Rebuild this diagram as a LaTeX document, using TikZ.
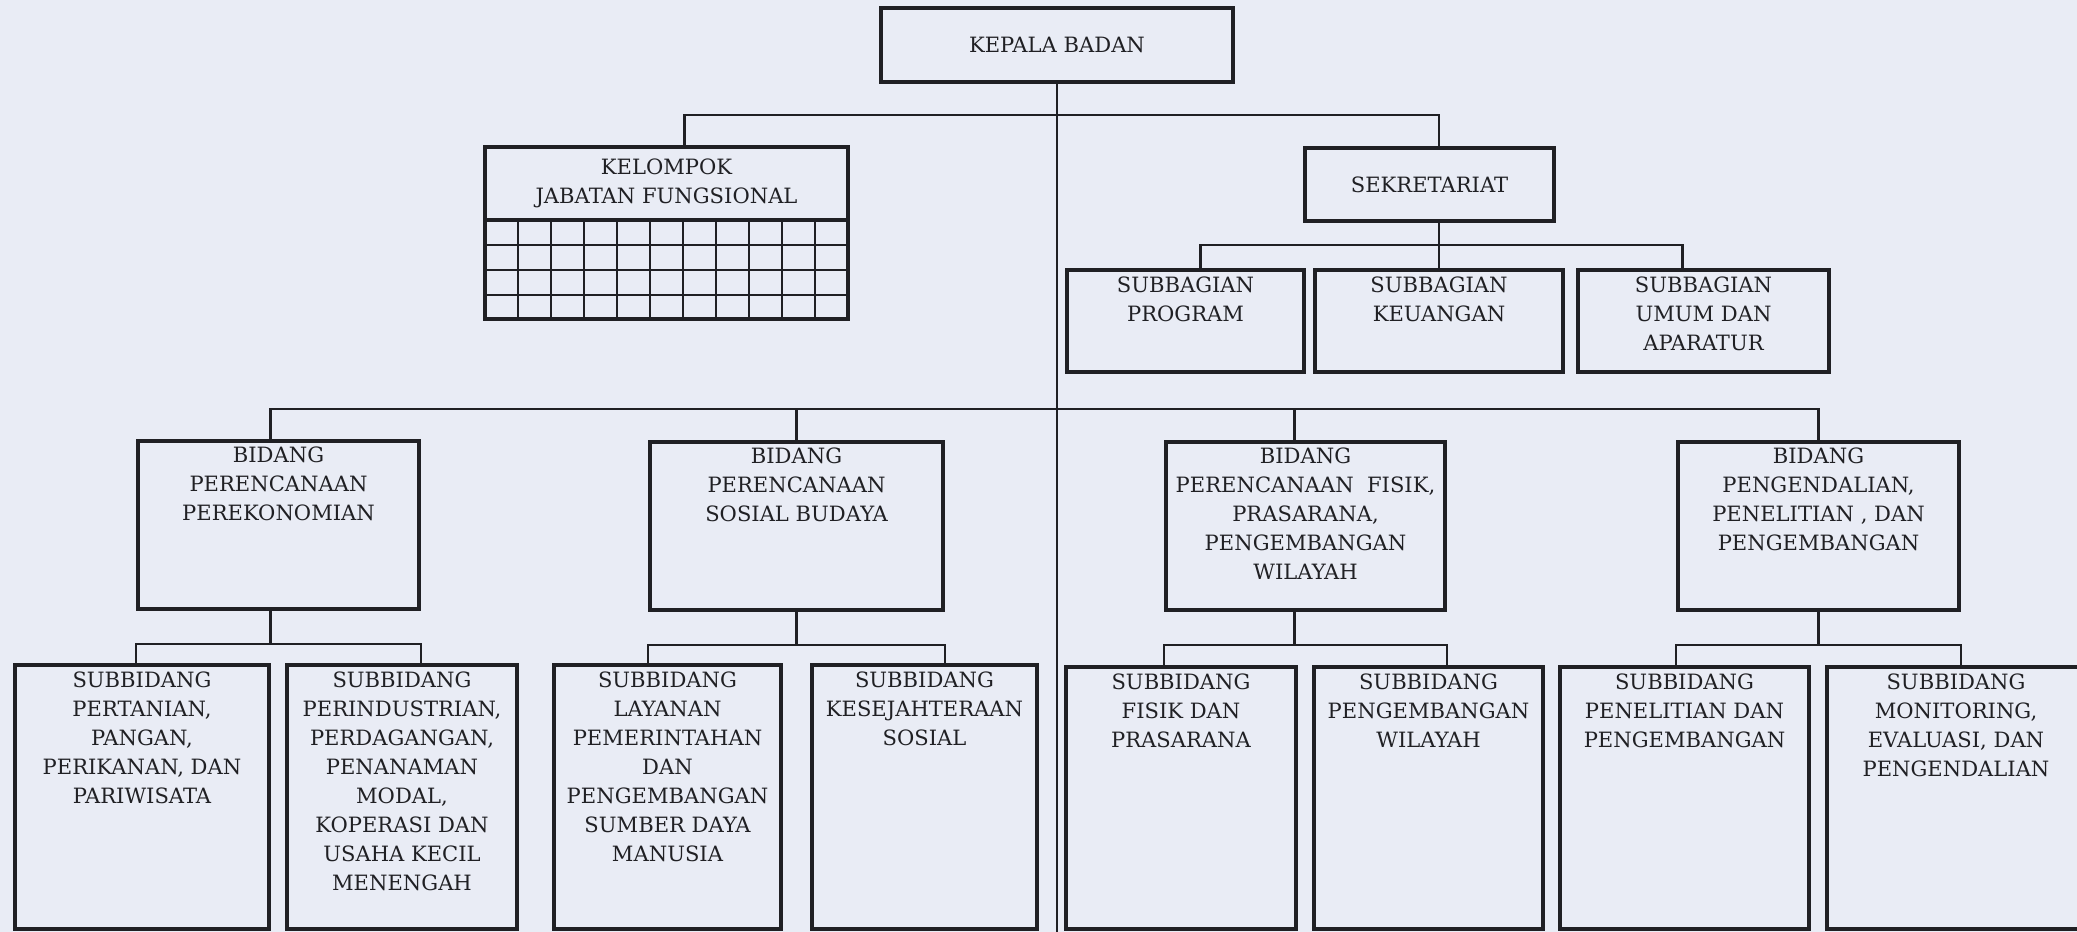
\documentclass[tikz,border=0pt]{standalone}
\usepackage{fontspec}
\setmainfont{DejaVu Serif}
\usetikzlibrary{fit}
\definecolor{paper}{RGB}{233,236,245}
\definecolor{ink}{RGB}{32,32,36}
\newcommand{\orgfont}{\fontsize{12}{16.5}\selectfont}

\begin{document}
\begin{tikzpicture}[x=0.02cm, y=-0.02cm,
    unit/.style={draw=ink, line width=2.1pt, inner sep=0pt},
    title/.style={anchor=north, inner sep=0pt, font=\orgfont, align=center, text=ink},
    link/.style={draw=ink, line width=1.5pt},
    cell/.style={draw=ink, line width=1.6pt}]
  \fill[paper] (0,0) rectangle (2077,932);
  \useasboundingbox (0,0) rectangle (2077,932);

  \node[unit, fit={(881,8) (1233,82)}] (kepala) {};
  \node[title, anchor=center] (kepalat) at (kepala.center) {KEPALA BADAN};
  \node[unit, fit={(485,147) (848,319)}] (kjf) {};
  \node[unit, fit={(485,147) (848,220)}] (kjfhead) {};
  \node[title, anchor=center] (kjft) at (kjfhead.center) {KELOMPOK\\JABATAN FUNGSIONAL};
  \foreach \r in {245,270,295}
    \draw[cell] (485,\r) -- (848,\r);
  \foreach \c in {1,...,10}
    \draw[cell] (485+33*\c,220) -- (485+33*\c,319);
  \node[unit, fit={(1305,148) (1554,221)}] (sekr) {};
  \node[title, anchor=center] (sekrt) at (sekr.center) {SEKRETARIAT};

  \node[unit, fit={(1067,270) (1304,372)}] (sbprog) {};
  \node[title] (sbprogt) at ([yshift=-5pt]sbprog.north) {SUBBAGIAN\\PROGRAM};
  \node[unit, fit={(1315,270) (1563,372)}] (sbkeu) {};
  \node[title] (sbkeut) at ([yshift=-5pt]sbkeu.north) {SUBBAGIAN\\KEUANGAN};
  \node[unit, fit={(1578,270) (1829,372)}] (sbumum) {};
  \node[title] (sbumumt) at ([yshift=-5pt]sbumum.north) {SUBBAGIAN\\UMUM DAN\\APARATUR};

  \node[unit, fit={(138,441) (419,609)}] (bid1) {};
  \node[title] (bid1t) at ([yshift=-4.3pt]bid1.north) {BIDANG\\PERENCANAAN\\PEREKONOMIAN};
  \node[unit, fit={(650,442) (943,610)}] (bid2) {};
  \node[title] (bid2t) at ([yshift=-4.3pt]bid2.north) {BIDANG\\PERENCANAAN\\SOSIAL BUDAYA};
  \node[unit, fit={(1166,442) (1445,610)}] (bid3) {};
  \node[title] (bid3t) at ([yshift=-4.3pt]bid3.north) {BIDANG\\PERENCANAAN\ \ FISIK,\\PRASARANA,\\PENGEMBANGAN\\WILAYAH};
  \node[unit, fit={(1678,442) (1959,610)}] (bid4) {};
  \node[title] (bid4t) at ([yshift=-4.3pt]bid4.north) {BIDANG\\PENGENDALIAN,\\PENELITIAN , DAN\\PENGEMBANGAN};

  \node[unit, fit={(15,665) (269,929)}] (sub1) {};
  \node[title] (sub1t) at ([yshift=-4.7pt]sub1.north) {SUBBIDANG\\PERTANIAN,\\PANGAN,\\PERIKANAN, DAN\\PARIWISATA};
  \node[unit, fit={(287,665) (517,929)}] (sub2) {};
  \node[title] (sub2t) at ([yshift=-4.7pt]sub2.north) {SUBBIDANG\\PERINDUSTRIAN,\\PERDAGANGAN,\\PENANAMAN\\MODAL,\\KOPERASI DAN\\USAHA KECIL\\MENENGAH};
  \node[unit, fit={(554,665) (781,929)}] (sub3) {};
  \node[title] (sub3t) at ([yshift=-4.7pt]sub3.north) {SUBBIDANG\\LAYANAN\\PEMERINTAHAN\\DAN\\PENGEMBANGAN\\SUMBER DAYA\\MANUSIA};
  \node[unit, fit={(812,665) (1037,929)}] (sub4) {};
  \node[title] (sub4t) at ([yshift=-4.7pt]sub4.north) {SUBBIDANG\\KESEJAHTERAAN\\SOSIAL};
  \node[unit, fit={(1066,667) (1296,929)}] (sub5) {};
  \node[title] (sub5t) at ([yshift=-4.7pt]sub5.north) {SUBBIDANG\\FISIK DAN\\PRASARANA};
  \node[unit, fit={(1314,667) (1543,929)}] (sub6) {};
  \node[title] (sub6t) at ([yshift=-4.7pt]sub6.north) {SUBBIDANG\\PENGEMBANGAN\\WILAYAH};
  \node[unit, fit={(1560,667) (1809,929)}] (sub7) {};
  \node[title] (sub7t) at ([yshift=-4.7pt]sub7.north) {SUBBIDANG\\PENELITIAN DAN\\PENGEMBANGAN};
  \node[unit, fit={(1827,667) (2085,929)}] (sub8) {};
  \node[title] (sub8t) at ([yshift=-4.7pt]sub8.north) {SUBBIDANG\\MONITORING,\\EVALUASI, DAN\\PENGENDALIAN};

  \coordinate (base) at (1057,940);
  \coordinate (jTop) at (1057,115);
  \coordinate (jBid) at (1057,409);
  \draw[link] (kepala.south) -- (base);
  \draw[link] ([xshift=0.36cm]kjf.north) |- (jTop) -| (sekr.north -| sbkeu.north);
  \path (sbkeu.north) ++(0,-23) coordinate (jSek);
  \draw[link] (sekr.south -| sbkeu.north) -- (sbkeu.north);
  \draw[link] ([xshift=0.3cm]sbprog.north) |- (jSek) -| ([xshift=-0.42cm]sbumum.north);
  \coordinate (d1) at ([xshift=-0.16cm]bid1.north);
  \coordinate (d3) at ([xshift=-0.22cm]bid3.north);
  \draw[link] (d1) |- (jBid) -| (bid4.north);
  \draw[link] (bid2.north) -- (bid2.north |- jBid);
  \draw[link] (d3) -- (d3 |- jBid);
  \path (d1 |- bid1.south) ++(0,33) coordinate (j1);
  \path (bid2.south) ++(0,33) coordinate (j2);
  \path (d3 |- bid3.south) ++(0,33) coordinate (j3);
  \path (bid4.south) ++(0,33) coordinate (j4);
  \draw[link] (d1 |- bid1.south) -- (j1);
  \draw[link] (bid2.south) -- (j2);
  \draw[link] (d3 |- bid3.south) -- (j3);
  \draw[link] (bid4.south) -- (j4);
  \draw[link] (sub1.north -| bid1.west) |- (j1) -| (sub2.north -| bid1.east);
  \draw[link] (sub3.north -| bid2.west) |- (j2) -| (sub4.north -| bid2.east);
  \draw[link] (sub5.north -| bid3.west) |- (j3) -| (sub6.north -| bid3.east);
  \draw[link] (sub7.north -| bid4.west) |- (j4) -| (sub8.north -| bid4.east);
\end{tikzpicture}
\end{document}
